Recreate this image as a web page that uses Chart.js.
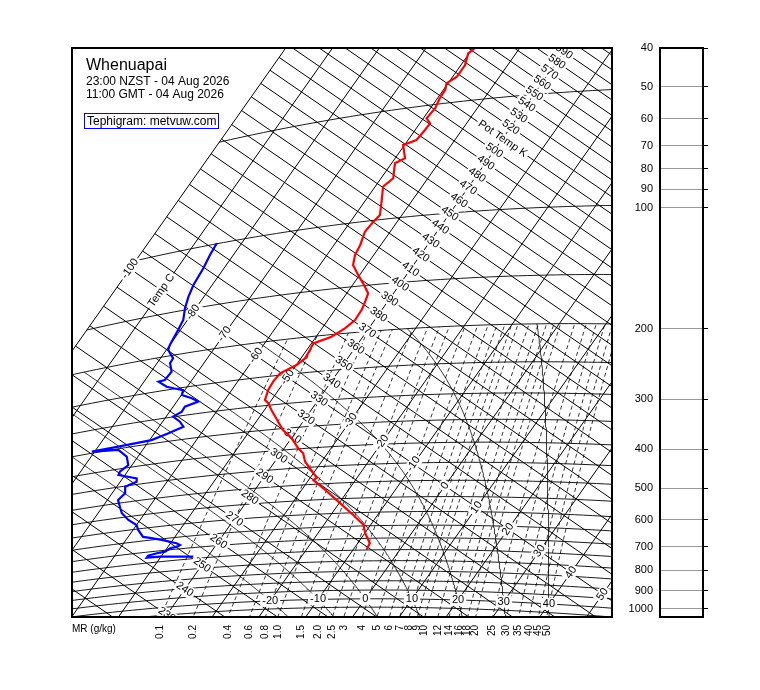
<!DOCTYPE html>
<html>
<head>
<meta charset="utf-8">
<title>Whenuapai tephigram</title>
<script src="https://cdn.jsdelivr.net/npm/chart.js@4.4.1/dist/chart.umd.min.js"></script>
<style>
  body { margin: 0; background: #fff; }
  #wrap { position: relative; width: 760px; height: 690px; }
  #tephi { position: absolute; left: 0; top: 0; }
  #panel { position: absolute; left: 610px; top: 0; }
</style>
</head>
<body>
<div id="wrap">
  <canvas id="tephi" width="760" height="690"></canvas>
  <canvas id="panel" width="150" height="690"></canvas>
</div>
<script>
// Sounding - temperature (red), pressure hPa / deg C
const tempPres = [35.7, 37.0, 39.8, 42.6, 44.1, 45.9, 48.3, 51.2, 54.3, 56.2, 58.4, 61.9, 63.2, 68.9, 70.6, 77.6, 81.3, 87.4, 97.1, 100.8,
  106.8, 115.8, 123.0, 130.9, 139.9, 147.8, 157.9, 166.1, 174.6, 185.1, 193.9, 202.8, 209.0, 217.6, 228.6, 237.1, 247.1, 259.3, 272.4, 289.5,
  296.1, 309.7, 334.6, 353.4, 373.6, 398.8, 412.0, 434.3, 467.4, 480.8, 487.1, 513.9, 559.3, 607.8, 646.2, 679.1, 721.0, 745.5];
const tempC = [-59.4, -60.2, -59.1, -59.1, -60.3, -59.6, -59.5, -59.0, -59.3, -57.8, -57.9, -58.2, -60.3, -57.9, -59.3, -57.4, -58.3, -56.8, -54.7, -55.1,
  -55.4, -54.4, -54.0, -52.9, -50.3, -48.0, -45.4, -44.8, -44.3, -44.2, -45.1, -46.7, -49.6, -49.3, -49.1, -49.9, -52.2, -52.4, -52.2, -51.4,
  -50.2, -48.5, -45.3, -43.0, -39.9, -37.0, -35.2, -33.5, -30.0, -28.6, -29.0, -25.6, -20.4, -15.2, -11.5, -9.9, -7.4, -7.2];

// Sounding - dew point (blue)
const dewPres = [99.6, 106.9, 116.0, 128.2, 137.8, 148.3, 160.1, 170.1, 186.2, 192.1, 204.2, 210.3, 222.7, 233.6, 234.5, 244.6, 248.8, 254.2, 262.2, 270.3,
  278.0, 283.8, 292.3, 299.5, 311.4, 322.6, 332.2, 341.8, 345.1, 346.2, 352.6, 371.7, 393.3, 407.3, 415.8, 432.4, 442.0, 451.7, 471.7, 489.5,
  517.2, 535.1, 561.9, 584.2, 603.8, 633.7, 640.8, 654.2, 674.8, 683.4, 689.4, 693.5, 706.0, 709.4, 716.5, 724.8, 726.3, 740.8];
const dewC = [-85.3, -85.0, -84.4, -84.0, -83.3, -82.3, -80.9, -80.5, -80.0, -79.6, -77.3, -77.2, -75.6, -75.8, -76.9, -74.4, -72.7, -70.4, -69.9, -67.3,
  -65.4, -67.5, -67.4, -68.5, -66.3, -64.8, -67.0, -69.6, -75.7, -80.6, -75.2, -72.4, -70.8, -71.6, -71.4, -67.0, -66.5, -68.2, -67.2, -67.7,
  -66.0, -64.9, -62.5, -60.0, -58.9, -56.8, -55.2, -52.4, -48.7, -47.7, -48.1, -49.3, -49.9, -51.4, -52.9, -52.9, -50.2, -43.1];

// grid values
const isotherms = [-100, -90, -80, -70, -60, -50, -40, -30, -20, -10, 0, 10, 20, 30, 40, 50];
const isothermLabels = [-100, -90, -80, -70, -60, -50, -30, -20, -10, 0, 10, 20, 30, 40, 50];
const potTemps = [210, 220, 230, 240, 250, 260, 270, 280, 290, 300, 310, 320, 330, 340, 350, 360, 370, 380, 390, 400, 410, 420,
  430, 440, 450, 460, 470, 480, 490, 500, 510, 520, 530, 540, 550, 560, 570, 580, 590, 600, 610, 620];
const potTempLabels = [230, 240, 250, 260, 270, 280, 290, 300, 310, 320, 330, 340, 350, 360, 370, 380, 390, 400, 410, 420,
  430, 440, 450, 460, 470, 480, 490, 500, 510, 520, 530, 540, 550, 560, 570, 580, 590];
const isobars = [1050, 1000, 950, 900, 850, 800, 750, 700, 650, 600, 550, 500, 450, 400, 350, 300, 250, 200, 150, 100, 50];
const mixRatios = [0.1, 0.2, 0.4, 0.6, 0.8, 1, 1.5, 2, 2.5, 3, 4, 5, 6, 7, 8, 9, 10, 12, 14, 16, 18, 20, 25, 30, 35, 40, 45, 50];
const wetBulbs = [-20, -10, 0, 10, 20, 30, 40];
const panelPres = [40, 50, 60, 70, 80, 90, 100, 200, 300, 400, 500, 600, 700, 800, 900, 1000];

const FONT = '"Liberation Sans", Arial, Helvetica, sans-serif';
const KAPPA = 0.286;

// tephigram: T and ln(theta) axes, rotated onto the page
function projectTT(tC, theta) {
  const t = tC + 40, l = Math.log(theta / 330);
  return { x: 3.15 * t + 421.6 * l, y: -(2.17 * t - 597.8 * l) };
}
function project(tC, p) {
  return projectTT(tC, (tC + 273.15) * Math.pow(1000 / p, KAPPA));
}

function satMix(tC, p) {
  const es = 6.112 * Math.exp(17.67 * tC / (tC + 243.5));
  return 0.622 * es / (p - es);
}
function moistLapse(tC, p) {
  const T = tC + 273.15, rs = satMix(tC, p);
  const Rd = 287.04, cp = 1005.7, Lv = 2.501e6;
  return (Rd * T + Lv * rs) / (cp + Lv * Lv * rs * 0.622 / (Rd * T * T)) / p;
}
function stepT(t, p, dp) {
  const k1 = moistLapse(t, p);
  const k2 = moistLapse(t + k1 * dp / 2, p + dp / 2);
  return t + k2 * dp;
}
function moistAdiabat(tw) {
  const low = [], high = [project(tw, 1000)];
  let t = tw;
  for (let p = 1000; p < 1150; p += 5) { t = stepT(t, p, 5); low.push(project(t, p + 5)); }
  t = tw;
  for (let p = 1000; p > 200; p -= 5) { t = stepT(t, p, -5); high.push(project(t, p - 5)); }
  return low.reverse().concat(high);
}
function dewFromMix(w, p) {
  const e = (w / 1000) * p / (0.622 + w / 1000);
  const g = Math.log(e / 6.112);
  return 243.5 * g / (17.67 - g);
}

function line(points, color, width, dash) {
  return { data: points, showLine: true, pointRadius: 0, pointHoverRadius: 0, borderColor: color,
    borderWidth: width, borderDash: dash || [], fill: false, tension: 0 };
}

const sets = [];
sets.push(line(tempPres.map((p, i) => project(tempC[i], p)), '#ff0000', 2.2));
sets.push(line(dewPres.map((p, i) => project(dewC[i], p)), '#0000ff', 2.2));
isotherms.forEach(t => sets.push(line([projectTT(t, 180), projectTT(t, 720)], '#000', 1)));
potTemps.forEach(th => sets.push(line([projectTT(-100, th), projectTT(70, th)], '#000', 1)));
isobars.forEach(p => {
  const pts = [];
  for (let t = -100; t <= 80; t += 2) pts.push(project(t, p));
  sets.push(line(pts, '#000', 0.9));
});
mixRatios.forEach(w => {
  const pts = [];
  for (let p = 1150; p >= 200; p -= 25) pts.push(project(dewFromMix(w, p), p));
  sets.push(line(pts, '#000', 0.8, [4, 3]));
});
wetBulbs.forEach(tw => sets.push(line(moistAdiabat(tw), '#000', 0.8)));

function tag(ctx, q, text, angle) {
  ctx.save();
  ctx.translate(q.x, q.y);
  ctx.rotate(angle);
  const w = ctx.measureText(text).width;
  ctx.fillStyle = '#fff';
  ctx.fillRect(-w / 2 - 2, -6, w + 4, 12);
  ctx.fillStyle = '#000';
  ctx.fillText(text, 0, 0);
  ctx.restore();
}

const tephiLabels = {
  id: 'tephiLabels',
  beforeDatasetDraw(chart, args) {
    if (args.index !== 1) return;
    const ctx = chart.ctx, xs = chart.scales.x, ys = chart.scales.y, a = chart.chartArea;
    const px = pt => ({ x: xs.getPixelForValue(pt.x), y: ys.getPixelForValue(pt.y) });
    const o = px(projectTT(-40, 330)), dt = px(projectTT(-30, 330)), dth = px(projectTT(-40, 340));
    const angAdiabat = Math.atan2(dt.y - o.y, dt.x - o.x);
    const angIsotherm = Math.atan2(dth.y - o.y, dth.x - o.x);
    ctx.save();
    ctx.beginPath();
    ctx.rect(a.left, a.top, a.right - a.left, a.bottom - a.top);
    ctx.clip();
    ctx.font = '11px ' + FONT;
    ctx.textAlign = 'center';
    ctx.textBaseline = 'middle';
    potTempLabels.forEach(th => tag(ctx, px(projectTT(-40, th)), th === 510 ? 'Pot Temp K' : String(th), angAdiabat));
    isothermLabels.forEach(t => tag(ctx, px(projectTT(t, 330)), t === -90 ? 'Temp C' : String(t), angIsotherm));
    wetBulbs.forEach(t => tag(ctx, px(project(t, 1000)), String(t), 0));
    ctx.restore();
  },
  afterDraw(chart) {
    const ctx = chart.ctx, xs = chart.scales.x, ys = chart.scales.y, a = chart.chartArea;
    ctx.save();
    ctx.strokeStyle = '#000';
    ctx.lineWidth = 2;
    ctx.strokeRect(a.left, a.top, a.right - a.left, a.bottom - a.top);

    // mixing ratio labels under the frame
    ctx.fillStyle = '#000';
    ctx.font = '10px ' + FONT;
    ctx.textAlign = 'right';
    ctx.textBaseline = 'middle';
    mixRatios.forEach(w => {
      let x = null;
      for (let p = 1250; p >= 200; p -= 1) {
        const q = project(dewFromMix(w, p), p);
        if (ys.getPixelForValue(q.y) <= a.bottom) { x = xs.getPixelForValue(q.x); break; }
      }
      if (x === null) return;
      ctx.save();
      ctx.translate(x, a.bottom + 8);
      ctx.rotate(-Math.PI / 2);
      ctx.fillText(w < 3 ? w.toFixed(1) : String(w), 0, 0);
      ctx.restore();
    });
    ctx.textAlign = 'left';
    ctx.textBaseline = 'alphabetic';
    ctx.fillText('MR (g/kg)', a.left, a.bottom + 15);

    // titles
    ctx.font = '16px ' + FONT;
    ctx.fillText('Whenuapai', 86, 70);
    ctx.font = '12px ' + FONT;
    ctx.fillText('23:00 NZST - 04 Aug 2026', 86, 85);
    ctx.fillText('11:00 GMT - 04 Aug 2026', 86, 98);
    ctx.strokeStyle = '#0000ff';
    ctx.lineWidth = 1;
    ctx.strokeRect(84.5, 113.5, 134, 15);
    ctx.fillText('Tephigram: metvuw.com', 87, 125);
    ctx.restore();
  }
};

new Chart(document.getElementById('tephi'), {
  type: 'scatter',
  data: { datasets: sets },
  options: {
    responsive: false,
    animation: false,
    events: [],
    layout: { padding: { left: 72, top: 48, right: 148, bottom: 73 } },
    plugins: { legend: { display: false }, tooltip: { enabled: false } },
    scales: {
      x: { type: 'linear', display: false, min: -247, max: 293 },
      y: { type: 'linear', display: false, min: -218, max: 351 }
    }
  },
  plugins: [tephiLabels]
});

// right hand pressure panel
const panelBox = {
  id: 'panelBox',
  afterDraw(chart) {
    const ctx = chart.ctx, a = chart.chartArea;
    ctx.save();
    ctx.strokeStyle = '#000';
    ctx.lineWidth = 2;
    ctx.strokeRect(a.left, a.top, a.right - a.left, a.bottom - a.top);
    ctx.restore();
  }
};
const setTicks = s => { s.ticks = panelPres.map(v => ({ value: v })); };

new Chart(document.getElementById('panel'), {
  type: 'scatter',
  data: { datasets: [] },
  options: {
    responsive: false,
    animation: false,
    events: [],
    layout: { padding: { left: 0, right: 0, top: 48, bottom: 73 } },
    plugins: { legend: { display: false }, tooltip: { enabled: false } },
    scales: {
      x: { display: false, min: 0, max: 1 },
      y: {
        type: 'logarithmic', position: 'left', reverse: true, min: 40, max: 1047,
        afterBuildTicks: setTicks,
        afterFit: s => { s.width = 50; },
        grid: { display: false, drawTicks: false },
        border: { display: false },
        ticks: { callback: v => String(v), color: '#000', font: { size: 11, family: FONT }, padding: 7, autoSkip: false }
      },
      y2: {
        type: 'logarithmic', position: 'right', reverse: true, min: 40, max: 1047,
        afterBuildTicks: setTicks,
        afterFit: s => { s.width = 57; },
        grid: { color: '#9a9a9a', lineWidth: 1, tickColor: '#000', tickLength: 5, drawTicks: true },
        border: { display: false },
        ticks: { display: false }
      }
    }
  },
  plugins: [panelBox]
});
</script>
</body>
</html>
